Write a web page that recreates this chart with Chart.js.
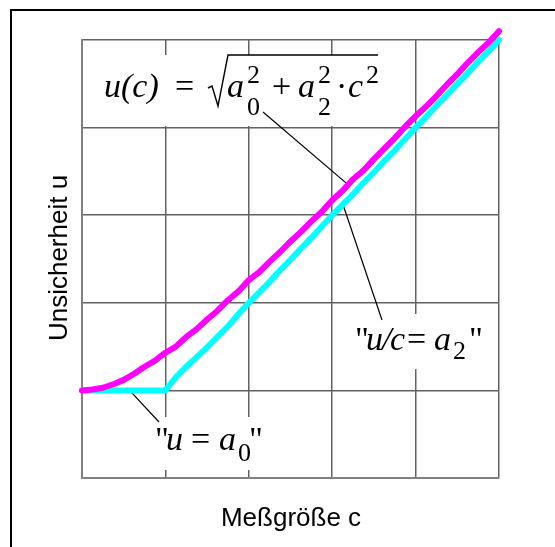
<!DOCTYPE html>
<html>
<head>
<meta charset="utf-8">
<script src="https://cdn.jsdelivr.net/npm/chart.js@4/dist/chart.umd.min.js"></script>
<style>
  html, body { margin: 0; padding: 0; background: #ffffff; }
  #wrap { width: 555px; height: 547px; position: relative; }
</style>
</head>
<body>
<div id="wrap"><canvas id="chart" width="555" height="547"></canvas></div>
<script>
// Measured quantity c (x) and the uncertainty curves u (y)
const cValues = [0, 0.125, 0.25, 0.375, 0.5, 0.625, 0.75, 0.875, 1, 1.125, 1.25, 1.375, 1.5, 1.625, 1.75, 1.875,
  2, 2.125, 2.25, 2.375, 2.5, 2.625, 2.75, 2.875, 3, 3.125, 3.25, 3.375, 3.5, 3.625, 3.75, 3.875,
  4, 4.125, 4.25, 4.375, 4.5, 4.625, 4.75, 4.875, 5];
// combined uncertainty u(c) = sqrt(a0^2 + a2^2 c^2)
const uCombined = [1.00, 1.01, 1.03, 1.07, 1.12, 1.19, 1.27, 1.34, 1.43, 1.50, 1.61, 1.70, 1.81, 1.91, 2.03, 2.13,
  2.26, 2.35, 2.47, 2.58, 2.70, 2.81, 2.93, 3.04, 3.17, 3.28, 3.41, 3.51, 3.64, 3.76, 3.88, 4.01,
  4.13, 4.24, 4.36, 4.49, 4.61, 4.74, 4.86, 4.97, 5.10];
// limiting cases: constant part, then proportional part
const uLimit = [1.00, 1.00, 1.00, 1.00, 1.00, 1.00, 1.00, 1.00, 1.00, 1.15, 1.27, 1.38, 1.49, 1.61, 1.73, 1.87,
  2.00, 2.12, 2.24, 2.37, 2.49, 2.62, 2.74, 2.87, 3.00, 3.12, 3.24, 3.37, 3.49, 3.62, 3.74, 3.87,
  4.00, 4.12, 4.25, 4.37, 4.50, 4.62, 4.75, 4.87, 5.00];
const gridTicks = [0, 1, 2, 3, 4, 5];

const xTitle = 'Meßgröße c';
const yTitle = 'Unsicherheit u';

const toPoints = (ys) => cValues.map((c, i) => ({ x: c, y: ys[i] }));

const SERIF = '"Liberation Serif", "Times New Roman", serif';
const SANS = '"Liberation Sans", Arial, sans-serif';

function txt(ctx, s, x, y, font) {
  ctx.font = font;
  ctx.fillText(s, x, y);
}

const annotations = {
  id: 'annotations',
  beforeDatasetsDraw(chart) {
    const ctx = chart.ctx;
    const xs = chart.scales.x, ys = chart.scales.y;
    ctx.save();
    // white label backgrounds cut the grid
    ctx.fillStyle = '#ffffff';
    ctx.fillRect(86, 55, 309, 71);
    ctx.fillRect(352, 314, 134, 55);
    ctx.fillRect(140, 417, 135, 53);

    // leader lines from labels to the curves
    ctx.strokeStyle = '#000000';
    ctx.lineWidth = 1.2;
    ctx.beginPath();
    ctx.moveTo(263, 112);
    ctx.lineTo(xs.getPixelForValue(3.2), ys.getPixelForValue(3.34));
    ctx.moveTo(382, 320);
    ctx.lineTo(xs.getPixelForValue(3.13), ys.getPixelForValue(3.12));
    ctx.moveTo(159, 422);
    ctx.lineTo(xs.getPixelForValue(0.59), ys.getPixelForValue(0.98));
    ctx.stroke();
    ctx.restore();
  },
  afterDraw(chart) {
    const ctx = chart.ctx;
    ctx.save();
    // outer frame
    ctx.strokeStyle = '#000000';
    ctx.lineWidth = 2;
    ctx.strokeRect(11, 10, 560, 560);

    ctx.fillStyle = '#000000';
    ctx.textBaseline = 'alphabetic';
    ctx.textAlign = 'left';
    const it = 'italic 34px ' + SERIF;
    const up = '34px ' + SERIF;
    const sm = '26px ' + SERIF;

    // u(c) = sqrt(a0^2 + a2^2 * c^2)
    txt(ctx, 'u(c)', 104, 97, it);
    txt(ctx, '=', 175, 97, up);
    ctx.lineWidth = 1.4;
    ctx.beginPath();
    ctx.moveTo(208, 88);
    ctx.lineTo(212, 86);
    ctx.lineTo(218, 106);
    ctx.lineTo(228, 55);
    ctx.lineTo(378, 55);
    ctx.stroke();
    txt(ctx, 'a', 227, 97, it);
    txt(ctx, '2', 247, 83, sm);
    txt(ctx, '0', 247, 115, sm);
    txt(ctx, '+', 272, 97, up);
    txt(ctx, 'a', 298, 97, it);
    txt(ctx, '2', 318, 83, sm);
    txt(ctx, '2', 318, 115, sm);
    txt(ctx, '\u00b7', 336, 97, up);
    txt(ctx, 'c', 348, 97, it);
    txt(ctx, '2', 366, 83, sm);

    // "u/c = a2"
    txt(ctx, '"', 355, 350, up);
    txt(ctx, 'u', 366, 350, it);
    txt(ctx, '/', 382, 350, it);
    txt(ctx, 'c', 390, 350, it);
    txt(ctx, '=', 407, 350, up);
    txt(ctx, 'a', 434, 350, it);
    txt(ctx, '2', 453, 359, sm);
    txt(ctx, '"', 469, 350, up);

    // "u = a0"
    txt(ctx, '"', 155, 450, up);
    txt(ctx, 'u', 166, 450, it);
    txt(ctx, '=', 191, 450, up);
    txt(ctx, 'a', 219, 450, it);
    txt(ctx, '0', 238, 461, sm);
    txt(ctx, '"', 249, 450, up);

    // axis titles
    ctx.font = '26px ' + SANS;
    ctx.textAlign = 'center';
    ctx.fillText(xTitle, 291, 526);
    ctx.translate(67, 258);
    ctx.rotate(-Math.PI / 2);
    ctx.fillText(yTitle, 0, 0);
    ctx.restore();
  }
};

const gridCommon = {
  color: '#626262',
  lineWidth: 1.5,
  drawTicks: false
};

new Chart(document.getElementById('chart'), {
  type: 'scatter',
  data: {
    datasets: [
      {
        label: 'u(c)',
        data: toPoints(uCombined),
        showLine: true,
        borderColor: '#ff00ff',
        borderWidth: 6,
        pointRadius: 0,
        borderCapStyle: 'round',
        borderJoinStyle: 'round',
        clip: false,
        order: 0
      },
      {
        label: 'limit',
        data: toPoints(uLimit),
        showLine: true,
        borderColor: '#00ffff',
        borderWidth: 6,
        pointRadius: 0,
        borderCapStyle: 'round',
        borderJoinStyle: 'round',
        clip: false,
        order: 1
      }
    ]
  },
  options: {
    responsive: false,
    devicePixelRatio: 1,
    animation: false,
    layout: { padding: { left: 82, top: 40, right: 56, bottom: 69 } },
    plugins: { legend: { display: false }, tooltip: { enabled: false } },
    scales: {
      x: {
        type: 'linear', min: 0, max: 5,
        afterBuildTicks: (s) => { s.ticks = gridTicks.map(v => ({ value: v })); },
        ticks: { display: false },
        grid: gridCommon,
        border: { display: true, color: '#808080', width: 2 }
      },
      y: {
        type: 'linear', min: 0, max: 5,
        afterBuildTicks: (s) => { s.ticks = gridTicks.map(v => ({ value: v })); },
        ticks: { display: false },
        grid: gridCommon,
        border: { display: true, color: '#808080', width: 2 }
      }
    }
  },
  plugins: [annotations]
});
</script>
</body>
</html>
